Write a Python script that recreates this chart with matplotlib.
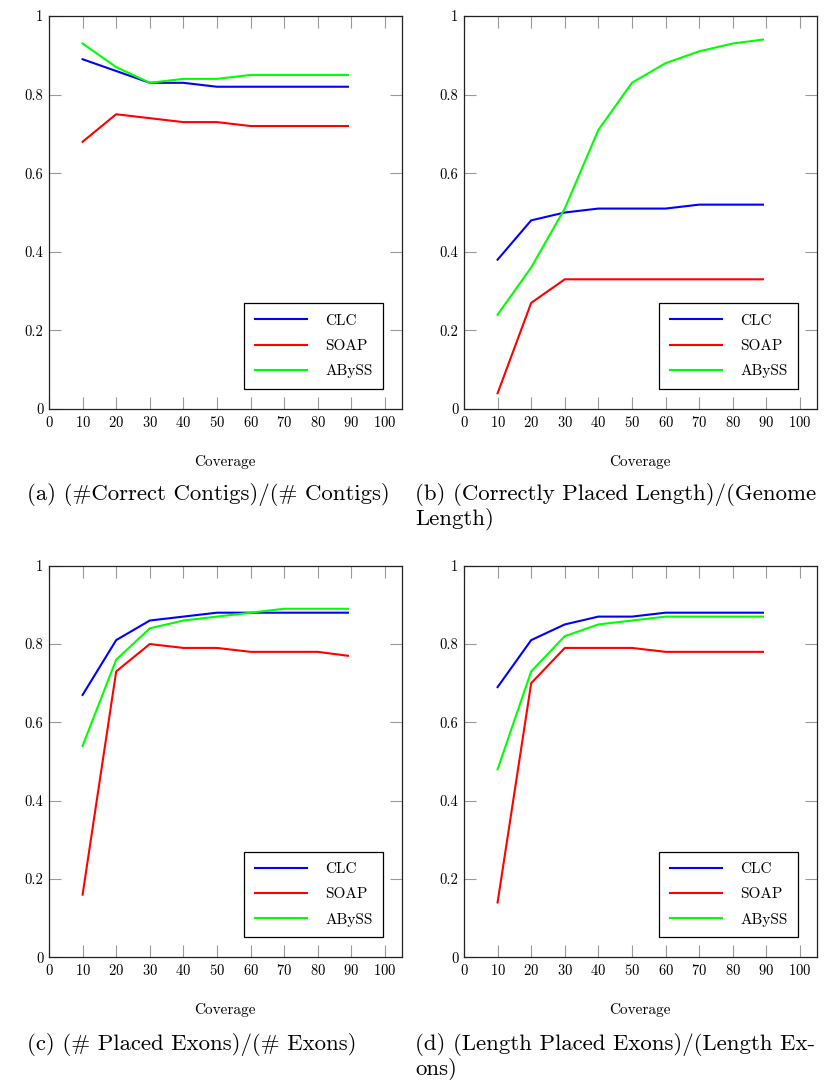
import matplotlib
matplotlib.use("Agg")
import matplotlib.pyplot as plt

plt.rcParams['font.family'] = ['cmr10', 'DejaVu Serif']
plt.rcParams['axes.formatter.use_mathtext'] = True

coverage = [10, 20, 30, 40, 50, 60, 70, 80, 89]
series_names = ["CLC", "SOAP", "ABySS"]
series_colors = ["#0000ff", "#ff0000", "#00ff00"]

a_clc = [0.89, 0.86, 0.83, 0.83, 0.82, 0.82, 0.82, 0.82, 0.82]
a_soap = [0.68, 0.75, 0.74, 0.73, 0.73, 0.72, 0.72, 0.72, 0.72]
a_abyss = [0.93, 0.87, 0.83, 0.84, 0.84, 0.85, 0.85, 0.85, 0.85]

b_clc = [0.38, 0.48, 0.50, 0.51, 0.51, 0.51, 0.52, 0.52, 0.52]
b_soap = [0.04, 0.27, 0.33, 0.33, 0.33, 0.33, 0.33, 0.33, 0.33]
b_abyss = [0.24, 0.36, 0.51, 0.71, 0.83, 0.88, 0.91, 0.93, 0.94]

c_clc = [0.67, 0.81, 0.86, 0.87, 0.88, 0.88, 0.88, 0.88, 0.88]
c_soap = [0.16, 0.73, 0.80, 0.79, 0.79, 0.78, 0.78, 0.78, 0.77]
c_abyss = [0.54, 0.76, 0.84, 0.86, 0.87, 0.88, 0.89, 0.89, 0.89]

d_clc = [0.69, 0.81, 0.85, 0.87, 0.87, 0.88, 0.88, 0.88, 0.88]
d_soap = [0.14, 0.70, 0.79, 0.79, 0.79, 0.78, 0.78, 0.78, 0.78]
d_abyss = [0.48, 0.73, 0.82, 0.85, 0.86, 0.87, 0.87, 0.87, 0.87]

x_ticks = [0, 10, 20, 30, 40, 50, 60, 70, 80, 90, 100]
y_ticks = [0, 0.2, 0.4, 0.6, 0.8, 1.0]
y_tick_labels = ["0", "0.2", "0.4", "0.6", "0.8", "1"]
x_label = "Coverage"
captions = [
    ["(a) (#Correct Contigs)/(# Contigs)"],
    ["(b) (Correctly Placed Length)/(Genome", "Length)"],
    ["(c) (# Placed Exons)/(# Exons)"],
    ["(d) (Length Placed Exons)/(Length Ex-", "ons)"],
]

panels = [
    (a_clc, a_soap, a_abyss),
    (b_clc, b_soap, b_abyss),
    (c_clc, c_soap, c_abyss),
    (d_clc, d_soap, d_abyss),
]

W, H = 829, 1080
fig = plt.figure(figsize=(W / 100, H / 100), dpi=100)

# axes boxes in pixels: left, right, top, bottom
boxes = [
    (49, 401.7, 16, 409),
    (464, 816.7, 16, 409),
    (49, 401.7, 565.7, 957.3),
    (464, 816.7, 565.7, 957.3),
]
# caption first-line baseline positions (pixels)
caption_pos = [(27, 500), (415, 500), (27, 1050), (415, 1050)]

for (l, r, t, b), data, cap, cpos in zip(boxes, panels, captions, caption_pos):
    ax = fig.add_axes([l / W, 1 - b / H, (r - l) / W, (b - t) / H])
    for vals, name, col in zip(data, series_names, series_colors):
        ax.plot(coverage, vals, color=col, lw=1.5, label=name)
    ax.set_xlim(0, 105)
    ax.set_ylim(0, 1)
    ax.set_xticks(x_ticks)
    ax.set_yticks(y_ticks)
    ax.set_yticklabels(y_tick_labels)
    ax.tick_params(direction='in', top=True, right=True, length=8.4,
                   width=0.8, color='#999999', labelsize=10.5, pad=4)
    for s in ax.spines.values():
        s.set_color('#222222')
        s.set_linewidth(0.9)
    ax.set_xlabel(x_label, fontsize=11, labelpad=18)
    leg = ax.legend(loc='lower right', bbox_to_anchor=(1 - 18.4 / (r - l), 20 / (b - t)),
                    borderaxespad=0, fontsize=11, handlelength=3.4,
                    handletextpad=1.2, labelspacing=0.75, borderpad=0.7,
                    fancybox=False, framealpha=1, edgecolor='black')
    leg.get_frame().set_linewidth(0.9)
    for i, line in enumerate(cap):
        fig.text(cpos[0] / W, 1 - (cpos[1] + 25 * i) / H, line, fontsize=16.4,
                 ha='left', va='baseline')

fig.savefig("out.png", dpi=100)
